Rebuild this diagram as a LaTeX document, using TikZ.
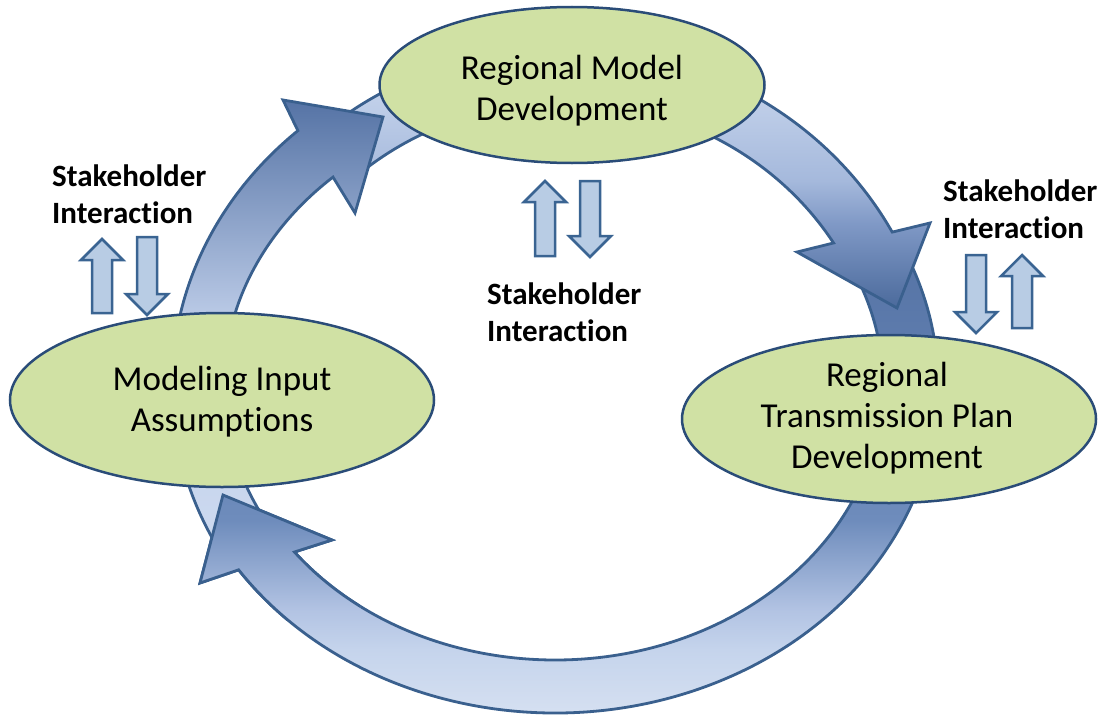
\documentclass[tikz,border=0pt]{standalone}
\usepackage{fontspec}
\setmainfont{Carlito}[Ligatures=NoCommon]
\usetikzlibrary{calc,shapes.geometric}
\definecolor{edgeblue}{RGB}{58,96,142}
\definecolor{ellnavy}{RGB}{42,76,120}
\definecolor{ellgreen}{RGB}{208,225,164}
\definecolor{smallfill}{RGB}{184,204,228}
\definecolor{smalledge}{RGB}{58,100,146}
\definecolor{Adark}{RGB}{85,115,165}
\definecolor{Alight}{RGB}{192,207,234}
\definecolor{Abot}{RGB}{205,218,240}
\definecolor{Bdark}{RGB}{75,106,156}
\definecolor{Bm1}{RGB}{128,153,198}
\definecolor{Bm2}{RGB}{165,185,220}
\definecolor{Bm3}{RGB}{198,212,236}
\definecolor{Btop}{RGB}{205,218,240}
\definecolor{Cbot}{RGB}{222,230,244}
\definecolor{Cm1}{RGB}{197,212,236}
\definecolor{Cm2}{RGB}{178,195,227}
\definecolor{Cm3}{RGB}{110,140,188}
\definecolor{Ctop}{RGB}{85,115,165}
\pgfdeclareverticalshading{shA}{100bp}{color(0bp)=(Abot); color(25bp)=(Abot); color(50bp)=(Alight); color(75bp)=(Adark); color(100bp)=(Adark)}
\pgfdeclareverticalshading{shB}{100bp}{color(0bp)=(Bdark); color(25bp)=(Bdark); color(40bp)=(Bm1); color(47.5bp)=(Bm2); color(65bp)=(Bm3); color(75bp)=(Btop); color(100bp)=(Btop)}
\pgfdeclareverticalshading{shC}{100bp}{color(0bp)=(Cbot); color(25bp)=(Cbot); color(35bp)=(Cm1); color(39bp)=(Cm2); color(48bp)=(Cm3); color(75bp)=(Ctop); color(100bp)=(Ctop)}
\newcommand{\upArr}[3]{\draw[smallarr] ({#1-10},#3) -- ({#1-10},{#2+21}) -- ({#1-21},{#2+21}) -- (#1,#2) -- ({#1+21},{#2+21}) -- ({#1+10},{#2+21}) -- ({#1+10},#3) -- cycle;}
\newcommand{\downArr}[3]{\draw[smallarr] ({#1-10},#2) -- ({#1-10},{#3-21}) -- ({#1-21},{#3-21}) -- (#1,#3) -- ({#1+21},{#3-21}) -- ({#1+10},{#3-21}) -- ({#1+10},#2) -- cycle;}
\newcommand{\arrowCpath}{($(cC)+(336:383 and 328)$) arc[start angle=336, end angle=505.7, x radius=383, y radius=328] -- (Coc) -- (Ctip) -- (Cic) -- ($(cC)+(502.6:328 and 275)$) arc[start angle=502.6, end angle=336, x radius=328, y radius=275] -- cycle}
\begin{document}
\begin{tikzpicture}[x=1pt,y=-1pt,
  bigarrow/.style={line width=2.8pt, draw=edgeblue, line join=miter},
  ell/.style={ellipse, draw=ellnavy, line width=2.5pt, fill=ellgreen, inner sep=0pt},
  elltext/.style={font=\fontsize{35}{41}\selectfont, align=center, text=black, inner sep=0pt},
  shtext/.style={font=\bfseries\fontsize{31}{37}\selectfont, align=left, text=black, inner sep=0pt},
  smallarr/.style={draw=smalledge, fill=smallfill, line width=2.5pt}]
\useasboundingbox (0,0) rectangle (1102,717);
\coordinate (cA) at (560,385);
\coordinate (cB) at (565,400);
\coordinate (cC) at (555,385);
\coordinate (Aoc) at (283,100);
\coordinate (Atip) at (383,117);
\coordinate (Aic) at (355,213);
\coordinate (Boc) at (930,223);
\coordinate (Btip) at (897,308);
\coordinate (Bic) at (797,252);
\coordinate (Coc) at (200,583);
\coordinate (Ctip) at (223,495);
\coordinate (Cic) at (332,540);
% bottom arrow
\path[bigarrow, shade, shading=shC] \arrowCpath;
% right arrow
\path[bigarrow, shade, shading=shB] ($(cB)+(230:372 and 353)$) arc[start angle=230, end angle=331.6, x radius=372, y radius=353] -- (Boc) -- (Btip) -- (Bic) -- ($(cB)+(328.2:316 and 298)$) arc[start angle=328.2, end angle=230, x radius=316, y radius=298] -- cycle;
% left arrow
\path[bigarrow, shade, shading=shA] ($(cA)+(150:388 and 345)$) arc[start angle=150, end angle=227.5, x radius=388, y radius=345] -- (Aoc) -- (Atip) -- (Aic) -- ($(cA)+(227.5:336 and 282)$) arc[start angle=227.5, end angle=150, x radius=336, y radius=282] -- cycle;
% bottom arrow head over left arrow tail
\begin{scope}
\clip (150,460) rectangle (360,620);
\path[bigarrow, shade, shading=shC] \arrowCpath;
\end{scope}
% ellipses
\node[ell, minimum width=385pt, minimum height=156pt] (rmd) at (572,85) {};
\node[ell, minimum width=424pt, minimum height=174pt] (mia) at (222,400) {};
\node[ell, minimum width=414pt, minimum height=168pt] (rtp) at (889,419) {};
\node[elltext, anchor=base] (rmdt) at (572,120) {Regional Model\\Development};
\node[elltext, anchor=base] (miat) at (222,431) {Modeling Input\\Assumptions};
\node[elltext, anchor=base] (rtpt) at (887,468) {Regional\\Transmission Plan\\Development};
% small arrows
\upArr{102}{239}{313}
\downArr{147}{237}{315}
\upArr{545}{181}{256}
\downArr{590}{181}{257}
\downArr{976}{255}{333}
\upArr{1022}{255}{328}
% labels
\node[shtext, anchor=base west] (sh1) at (52,223) {Stakeholder\\Interaction};
\node[shtext, anchor=base west] (sh2) at (487,341) {Stakeholder\\Interaction};
\node[shtext, anchor=base west] (sh3) at (943,238) {Stakeholder\\Interaction};
\end{tikzpicture}
\end{document}
